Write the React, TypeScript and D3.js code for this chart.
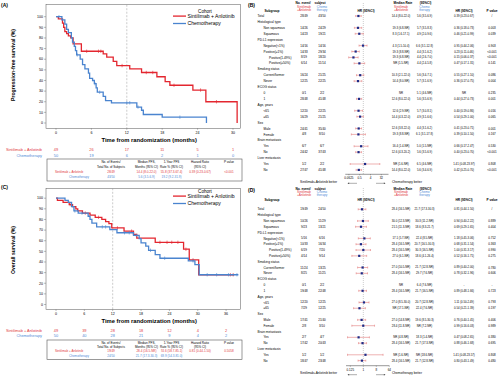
import React from 'react';
import * as d3 from 'd3';

const RED = '#e3262f';
const BLUE = '#4a84cf';
const TRED = '#e2383d';
const TBLUE = '#4f8ad6';
const NAVY = '#1c2a86';
const CIRED = '#e27c7c';
const FONT = 'Liberation Sans, Arial, Helvetica, sans-serif';

// ---------- Kaplan-Meier data ----------
const pfsRedSteps: [number, number][] = [[0, 100], [0.4, 98], [1.1, 94], [1.3, 90], [1.5, 86], [1.8, 84], [2.1, 82], [2.5, 80], [2.9, 74.5], [4.3, 67.5], [8.0, 65], [8.6, 62], [9.7, 58], [10.3, 54], [12.5, 51], [14.5, 47.5], [17.1, 43.5], [18.5, 39], [19.3, 35.5], [23.2, 31], [25.4, 20], [30.7, 0]];
const pfsRedEnd = 30.7;
const pfsRedCensor = [5.2, 7.2, 7.6, 11.2, 15.3, 16.4, 20.0, 24.5, 27.2];
const pfsBlueSteps: [number, number][] = [[0, 100], [1.0, 97], [1.5, 93], [1.8, 88], [2.1, 85], [2.6, 80], [2.8, 76], [3.1, 72], [3.3, 68], [3.5, 64], [4.1, 60], [4.5, 55], [4.9, 51], [5.5, 47], [5.7, 42], [6.2, 40], [6.5, 37], [6.8, 33], [7.0, 29], [8.0, 25], [8.4, 21], [9.4, 19], [13.7, 15], [14.5, 12], [14.8, 8], [18.0, 5.5], [25.5, 0]];
const pfsBlueEnd = 25.5;
const pfsBlueCensor = [0.5, 3.6, 6.6, 7.4, 12.0, 12.5, 13.9, 21.0];

const osRedSteps: [number, number][] = [[0, 100], [0.3, 98], [1.5, 96], [2.8, 94], [3.5, 92], [4.2, 90], [4.6, 88], [5.6, 86], [7.2, 84], [8.3, 82], [9.7, 80], [10.5, 78], [11.2, 76], [11.8, 72], [14.4, 69], [16.4, 66], [17.1, 62.5], [21.0, 58.5], [27.0, 52], [28.2, 42], [30.2, 28]];
const osRedEnd = 37.7;
const osRedCensor = [3.0, 6.2, 9.0, 13.0, 16.0, 22.0, 23.5, 24.5, 25.8, 27.5, 29.0, 36.9, 37.5];
const osBlueSteps: [number, number][] = [[0, 100], [1.9, 98], [2.6, 96], [3.3, 92], [3.8, 88], [4.7, 86], [6.8, 83], [7.2, 80], [7.6, 76.5], [8.6, 73], [11.4, 70.5], [12.9, 67.5], [16.4, 65], [17.6, 62], [18.0, 58], [19.0, 55], [19.6, 51], [21.0, 47], [22.0, 43.5], [28.0, 41], [29.4, 37.5], [30.3, 28]];
const osBlueEnd = 38.6;
const osBlueCensor = [4.0, 5.5, 9.8, 10.5, 14.5, 15.5, 17.0, 20.0, 23.0, 29.0, 32.0, 34.0, 36.5, 38.3];

const pfsMonthTicks = [0, 6, 12, 18, 24, 30];
const osMonthTicks = [0, 6, 12, 18, 24, 30, 36];
const pfsRiskRed = [49, 26, 17, 11, 5, 1];
const pfsRiskBlue = [50, 19, 6, 2, 1, 0];
const osRiskRed = [49, 39, 28, 18, 12, 4, 2];
const osRiskBlue = [50, 40, 28, 21, 9, 4, 2];
const survTicks = [0, 10, 20, 30, 40, 50, 60, 70, 80, 90, 100];

const groupRed = 'Sintilimab + Anlotinib';
const groupBlue = 'Chemotherapy';

const summaryHead1 = ['No. of Events/', 'Median PFS,', '1-Year PFS', 'Hazard Ratio', 'P value'];
const summaryHead2 = ['Total No. of Subjects', 'Months (95% CI)', 'Rate % (95% CI)', '(95% CI)', ''];
const pfsSummaryRed = ['28/49', '14.4 (8.0-22.0)', '55.8 (37.3-67.4)', '0.39 (0.23-0.67)', '<0.001'];
const pfsSummaryBlue = ['43/50', '5.6 (3.5-6.9)', '19.2 (9.2-31.9)', '', ''];
const osSummaryRed = ['19/49', '28.4 (16.5-NR)', '74.6 (58.7-85.1)', '0.81 (0.44-1.50)', '0.5058'];
const osSummaryBlue = ['24/50', '21.7 (17.3-30.3)', '69.9 (54.3-81.0)', '', ''];

// ---------- Forest data ----------
const subgroups = ['Total', 'Histological type', 'Non squamous', 'Squamous', 'PD-L1 expression', 'Negative(<1%)', 'Positive(≥1%)', 'Positive(1-49%)', 'Positive(≥50%)', 'Smoking status', 'Current/former', 'Never', 'ECOG status', '0', '1', 'Age, years', '<65', '≥65', 'Sex', 'Male', 'Female', 'Brain metastasis', 'Yes', 'No', 'Liver metastasis', 'Yes', 'No'];
const subLevels = [0, 0, 1, 1, 0, 1, 1, 2, 2, 0, 1, 1, 0, 1, 1, 0, 1, 1, 0, 1, 1, 0, 1, 1, 0, 1, 1];

const pfsEvRed = ['28/49', null, '14/26', '14/23', null, '14/16', '14/33', '8/19', '6/14', null, '16/24', '12/25', null, '0/1', '28/48', null, '12/20', '16/29', null, '24/41', '4/8', null, '6/7', '24/42', null, '1/2', '27/47'];
const pfsEvBlue = ['43/50', null, '24/29', '19/21', null, '14/16', '29/34', '18/20', '11/14', null, '21/25', '22/25', null, '2/2', '41/48', null, '22/25', '21/25', null, '35/40', '8/10', null, '6/7', '37/43', null, '2/2', '41/48'];
const pfsMedRed = ['14.4 (8.0-22.0)', null, '19.3 (6.8-NR)', '8.3 (1.6-17.1)', null, '4.3 (1.5-10.4)', '19.3 (8.8-NR)', '19.3 (6.8-NR)', 'NR (1.5-NR)', null, '10.3 (2.1-22.0)', '14.4 (8.0-NR)', null, 'NR', '12.6 (8.0-22.0)', null, '12.6 (2.9-NR)', '14.4 (4.3-22.0)', null, '12.6 (3.8-22.0)', '19.3 (8.8-NR)', null, '16.4 (1.4-NR)', '12.6 (4.3-20.2)', null, 'NR (1.6-NR)', '14.4 (8.0-22.0)'];
const pfsMedBlue = ['5.6 (3.5-6.9)', null, '5.7 (3.5-8.3)', '4.9 (2.0-9.6)', null, '6.6 (3.1-12.8)', '4.4 (3.1-6.2)', '4.4 (2.6-7.0)', '4.4 (2.4-5.8)', null, '5.6 (3.4-7.1)', '5.7 (3.1-6.9)', null, '5.1 (4.6-NR)', '5.6 (3.5-6.9)', null, '5.7 (3.0-8.1)', '4.9 (3.1-6.6)', null, '4.4 (3.1-6.2)', '6.1 (3.1-17.8)', null, '5.0 (1.5-NR)', '5.6 (3.5-6.9)', null, '6.5 (4.6-NR)', '5.6 (3.4-6.9)'];
const pfsHRText = ['0.39 (0.23-0.67)', null, '0.36 (0.18-0.73)', '0.46 (0.21-0.99)', null, '0.95 (0.44-2.06)', '0.23 (0.11-0.46)', '0.15 (0.06-0.37)', '0.47 (0.17-1.31)', null, '0.55 (0.27-1.10)', '0.36 (0.17-0.75)', null, 'NR', '0.44 (0.27-0.73)', null, '0.40 (0.19-0.86)', '0.54 (0.29-1.00)', null, '0.41 (0.23-0.71)', '0.39 (0.10-1.50)', null, '0.66 (0.17-2.47)', '0.40 (0.23-0.70)', null, '1.41 (0.08-23.97)', '0.42 (0.25-0.70)'];
const pfsP = ['/', null, '0.003', '0.039', null, '0.903', '<0.001', '<0.001', '0.141', null, '0.086', '0.004', null, '0.235', '0.001', null, '0.016', '0.065', null, '0.001', '0.167', null, '0.530', '<0.001', null, '0.808', '<0.001'];
const pfsHR = [0.39, null, 0.36, 0.46, null, 0.95, 0.23, 0.15, 0.47, null, 0.55, 0.36, null, null, 0.44, null, 0.40, 0.54, null, 0.41, 0.39, null, 0.66, 0.40, null, 1.41, 0.42];
const pfsLo = [0.23, null, 0.18, 0.21, null, 0.44, 0.11, 0.06, 0.17, null, 0.27, 0.17, null, null, 0.27, null, 0.19, 0.29, null, 0.23, 0.10, null, 0.17, 0.23, null, 0.08, 0.25];
const pfsHi = [0.67, null, 0.73, 0.99, null, 2.06, 0.46, 0.37, 1.31, null, 1.10, 0.75, null, null, 0.73, null, 0.86, 1.00, null, 0.71, 1.50, null, 2.47, 0.70, null, 23.97, 0.70];

const osEvRed = ['19/49', null, '10/26', '9/23', null, '5/16', '10/33', '6/19', '4/14', null, '11/24', '8/25', null, '0/1', '19/48', null, '12/20', '7/29', null, '17/41', '2/8', null, '2/7', '17/42', null, '1/2', '18/47'];
const osEvBlue = ['24/50', null, '11/29', '13/21', null, '6/16', '16/34', '7/20', '9/14', null, '13/25', '11/25', null, '2/2', '22/48', null, '12/25', '12/25', null, '21/40', '3/10', null, '4/7', '20/43', null, '1/2', '23/48'];
const osMedRed = ['28.4 (16.5-NR)', null, '30.0 (12.3-NR)', '21.5 (11.3-NR)', null, '17.1 (5.7-NR)', '28.4 (16.5-NR)', '28.4 (16.5-NR)', '27.0 (6.1-NR)', null, '27.0 (10.5-NR)', '28.4 (16.5-NR)', null, 'NR', '28.4 (16.5-NR)', null, '27.0 (8.5-30.0)', 'NR (17.1-NR)', null, '27.0 (14.8-NR)', '28.4 (11.8-NR)', null, 'NR (4.8-NR)', '28.4 (16.5-NR)', null, 'NR (1.6-NR)', '28.4 (16.5-NR)'];
const osMedBlue = ['21.7 (17.3-30.3)', null, '30.3 (11.2-NR)', '18.6 (8.3-21.7)', null, '22.4 (8.5-NR)', '20.7 (16.5-30.3)', '30.3 (16.5-NR)', '18.6 (4.1-26.4)', null, '21.7 (12.8-NR)', '29.7 (7.6-NR)', null, '6.4 (7.6-NR)', '21.7 (16.5-NR)', null, '20.7 (12.8-NR)', '22.4 (7.6-NR)', null, '19.6 (8.5-30.3)', 'NR (7.2-NR)', null, '18.3 (1.4-NR)', '21.7 (17.3-NR)', null, 'NR (18.6-NR)', '21.7 (12.8-NR)'];
const osHRText = ['0.81 (0.44-1.50)', null, '0.94 (0.40-2.22)', '0.69 (0.29-1.65)', null, '1.18 (0.45-3.06)', '0.68 (0.31-1.54)', '1.00 (0.31-3.17)', '0.52 (0.16-1.71)', null, '0.89 (0.40-2.00)', '0.78 (0.32-1.96)', null, '-', '0.89 (0.48-1.66)', null, '1.11 (0.50-2.49)', '0.54 (0.21-1.39)', null, '0.76 (0.40-1.45)', '0.99 (0.16-6.03)', null, '0.47 (0.08-2.65)', '0.88 (0.46-1.68)', null, '1.41 (0.08-23.57)', '0.80 (0.43-1.49)'];
const osP = ['/', null, '0.889', '0.404', null, '0.752', '0.363', '0.990', '0.275', null, '0.780', '0.606', null, '-', '0.723', null, '0.793', '0.197', null, '0.406', '0.989', null, '0.380', '0.695', null, '0.808', '0.480'];
const osHR = [0.81, null, 0.94, 0.69, null, 1.18, 0.68, 1.00, 0.52, null, 0.89, 0.78, null, null, 0.89, null, 1.11, 0.54, null, 0.76, 0.99, null, 0.47, 0.88, null, 1.41, 0.80];
const osLo = [0.44, null, 0.40, 0.29, null, 0.45, 0.31, 0.31, 0.16, null, 0.40, 0.32, null, null, 0.48, null, 0.50, 0.21, null, 0.40, 0.16, null, 0.08, 0.46, null, 0.08, 0.43];
const osHi = [1.50, null, 2.22, 1.65, null, 3.06, 1.54, 3.17, 1.71, null, 2.00, 1.96, null, null, 1.66, null, 2.49, 1.39, null, 1.45, 6.03, null, 2.65, 1.68, null, 23.57, 1.49];

const pfsForestTicks = [0.0625, 0.5, 4, 32];
const osForestTicks = [0.125, 1, 8, 64];

// ---------- helpers ----------
const T = (props: any) => <text fontFamily={FONT} dy="0.35em" {...props} />;

function stepAt(steps: [number, number][], t: number) {
  let s = steps[0][1];
  for (const [tt, v] of steps) if (tt <= t) s = v;
  return s;
}

function KMPanel(p: any) {
  const x = d3.scaleLinear().domain([0, 6]).range([p.x0, p.x0 + p.pxPer6]);
  const y = d3.scaleLinear().domain([0, 100]).range([p.y0, p.y100]);
  const line = d3.line<[number, number]>().x((d) => x(d[0])).y((d) => y(d[1])).curve(d3.curveStepAfter);
  const series = [
    { steps: p.redSteps, end: p.redEnd, censor: p.redCensor, color: RED },
    { steps: p.blueSteps, end: p.blueEnd, censor: p.blueCensor, color: BLUE },
  ];
  const fs = 3.6;
  const bfs = 3.05;
  const rfs = 3.9;
  const colX = [111, 146.5, 171.5, 200, 229];
  return (
    <g>
      <T x={1} y={p.labelY} fontSize={5} fontWeight="bold">{p.label}</T>
      <rect x={p.fl} y={p.ft} width={p.fr - p.fl} height={p.fb - p.ft} fill="none" stroke="#555" strokeWidth={0.5} />
      <line x1={x(12)} x2={x(12)} y1={p.ft} y2={p.fb} stroke="#999" strokeWidth={0.5} strokeDasharray="2,1.5" />
      {survTicks.map((v) => (
        <g key={v}>
          <line x1={p.fl - 2} x2={p.fl} y1={y(v)} y2={y(v)} stroke="#555" strokeWidth={0.4} />
          <T x={p.fl - 3} y={y(v)} fontSize={fs} textAnchor="end">{v}</T>
        </g>
      ))}
      {p.monthTicks.map((m: number) => (
        <g key={m}>
          <line x1={x(m)} x2={x(m)} y1={p.fb} y2={p.fb + 1.5} stroke="#555" strokeWidth={0.4} />
          <T x={x(m)} y={p.tickLabelY} fontSize={fs} textAnchor="middle">{m}</T>
        </g>
      ))}
      <T x={(p.fl + p.fr) / 2 + 6} y={p.titleY} fontSize={5.8} fontWeight="bold" textAnchor="middle">Time from randomization (months)</T>
      <T x={0} y={0} fontSize={5.2} fontWeight="bold" textAnchor="middle" transform={`translate(13,${p.yTitleY}) rotate(-90)`}>{p.yTitle}</T>
      {series.map((s, i) => {
        const pts: [number, number][] = [...s.steps, [s.end, s.steps[s.steps.length - 1][1]]];
        return (
          <g key={i}>
            <path d={line(pts) || ''} fill="none" stroke={s.color} strokeWidth={1.3} />
            {s.censor.map((c: number, j: number) => (
              <line key={j} x1={x(c)} x2={x(c)} y1={y(stepAt(s.steps, c)) - 1.7} y2={y(stepAt(s.steps, c)) + 1.7} stroke={s.color} strokeWidth={0.6} />
            ))}
          </g>
        );
      })}
      {/* legend */}
      <T x={205} y={p.legY} fontSize={4.6} textAnchor="middle">Cohort</T>
      <line x1={173} x2={186} y1={p.legY + 4.6} y2={p.legY + 4.6} stroke={RED} strokeWidth={1.3} />
      <T x={187.5} y={p.legY + 4.8} fontSize={5.1}>{groupRed}</T>
      <line x1={173} x2={186} y1={p.legY + 12} y2={p.legY + 12} stroke={BLUE} strokeWidth={1.3} />
      <T x={187.5} y={p.legY + 12.2} fontSize={5.1}>{groupBlue}</T>
      {/* risk table */}
      <T x={42} y={p.riskRedY} fontSize={rfs} textAnchor="end" fill={TRED}>{groupRed}</T>
      <T x={42} y={p.riskBlueY} fontSize={rfs} textAnchor="end" fill={TBLUE}>{groupBlue}</T>
      {p.monthTicks.map((m: number, i: number) => (
        <g key={m}>
          <T x={x(m)} y={p.riskRedY} fontSize={rfs} textAnchor="middle" fill={TRED}>{p.riskRed[i]}</T>
          <T x={x(m)} y={p.riskBlueY} fontSize={rfs} textAnchor="middle" fill={TBLUE}>{p.riskBlue[i]}</T>
        </g>
      ))}
      {/* summary box */}
      <rect x={47} y={p.boxT} width={195} height={p.boxB - p.boxT} fill="none" stroke="#555" strokeWidth={0.6} />
      {summaryHead1.map((h, i) => (
        <T key={'h1' + i} x={colX[i]} y={p.hY1} fontSize={bfs} textAnchor="middle">{h}</T>
      ))}
      {summaryHead2.map((h, i) => (
        <T key={'h2' + i} x={colX[i]} y={p.hY2} fontSize={bfs} textAnchor="middle">{h}</T>
      ))}
      <T x={69} y={p.rY1} fontSize={bfs} textAnchor="middle" fill={TRED}>{groupRed}</T>
      <T x={79} y={p.rY2} fontSize={bfs} textAnchor="middle" fill={TBLUE}>{groupBlue}</T>
      {p.sumRed.map((v: string, i: number) => (
        <T key={'r' + i} x={colX[i]} y={p.rY1} fontSize={bfs} textAnchor="middle" fill={TRED}>{v}</T>
      ))}
      {p.sumBlue.map((v: string, i: number) => (
        <T key={'b' + i} x={colX[i]} y={p.rY2} fontSize={bfs} textAnchor="middle" fill={TBLUE}>{v}</T>
      ))}
    </g>
  );
}

function ForestPanel(p: any) {
  const xs = d3.scaleLog().base(2).domain([Math.pow(2, p.logMin), Math.pow(2, p.logMax)]).range([p.xL, p.xR]);
  const ry = (i: number) => p.rowY0 + i * p.rowStep;
  const fs = 3.2;
  const vfs = 2.8;
  const efs = 3.0;
  const labelX = [257.5, 263.5, 269];
  const c = { ev1: 304, ev2: 322, med1: 401, med2: 424.5, hr: 464, p: 492 };
  return (
    <g>
      <T x={248} y={p.labelY} fontSize={5} fontWeight="bold">{p.label}</T>
      <T x={c.ev1 - 1} y={p.h1} fontSize={fs} fontWeight="bold" textAnchor="middle">No. event/</T>
      <T x={c.ev2 - 2} y={p.h1} fontSize={fs} fontWeight="bold" textAnchor="middle">subject</T>
      <T x={c.ev1} y={p.h2} fontSize={fs} textAnchor="middle" fill={TRED}>Sintilimab</T>
      <T x={c.ev1} y={p.h3} fontSize={fs} textAnchor="middle" fill={TRED}>+Anlotinib</T>
      <T x={c.ev2} y={p.h2} fontSize={fs} textAnchor="middle" fill={TBLUE}>Chemo</T>
      <T x={c.ev2} y={p.h3} fontSize={fs} textAnchor="middle" fill={TBLUE}>therapy</T>
      <T x={c.med1 + 2} y={p.h1} fontSize={fs} fontWeight="bold" textAnchor="middle">Median Rate</T>
      <T x={c.med2 + 1} y={p.h1} fontSize={fs} fontWeight="bold" textAnchor="middle">(95%CI)</T>
      <T x={c.med1} y={p.h2} fontSize={fs} textAnchor="middle" fill={TRED}>Sintilimab</T>
      <T x={c.med1} y={p.h3} fontSize={fs} textAnchor="middle" fill={TRED}>+Anlotinib</T>
      <T x={c.med2} y={p.h2} fontSize={fs} textAnchor="middle" fill={TBLUE}>Chemo</T>
      <T x={c.med2} y={p.h3} fontSize={fs} textAnchor="middle" fill={TBLUE}>therapy</T>
      <T x={272} y={p.headY} fontSize={fs} fontWeight="bold" textAnchor="middle">Subgroup</T>
      <T x={366} y={p.headY} fontSize={fs} fontWeight="bold" textAnchor="middle">HR (95%CI)</T>
      <T x={c.hr} y={p.headY} fontSize={fs} fontWeight="bold" textAnchor="middle">HR (95%CI)</T>
      <T x={c.p} y={p.headY} fontSize={fs} fontWeight="bold" textAnchor="middle">P value</T>
      <line x1={xs(1)} x2={xs(1)} y1={p.refTop} y2={p.axisY} stroke="#999" strokeWidth={0.5} strokeDasharray="1,1" />
      {subgroups.map((s, i) => (
        <g key={i}>
          <T x={labelX[subLevels[i]]} y={ry(i)} fontSize={fs}>{s}</T>
          {p.evRed[i] != null && <T x={c.ev1} y={ry(i)} fontSize={efs} textAnchor="middle">{p.evRed[i]}</T>}
          {p.evBlue[i] != null && <T x={c.ev2} y={ry(i)} fontSize={efs} textAnchor="middle">{p.evBlue[i]}</T>}
          {p.medRed[i] != null && <T x={c.med1} y={ry(i)} fontSize={vfs} textAnchor="middle">{p.medRed[i]}</T>}
          {p.medBlue[i] != null && <T x={c.med2} y={ry(i)} fontSize={vfs} textAnchor="middle">{p.medBlue[i]}</T>}
          {p.hrText[i] != null && <T x={c.hr} y={ry(i)} fontSize={vfs} textAnchor="middle">{p.hrText[i]}</T>}
          {p.pv[i] != null && <T x={c.p} y={ry(i)} fontSize={efs} textAnchor="middle">{p.pv[i]}</T>}
          {p.hr[i] != null && (
            <g>
              <line x1={xs(p.lo[i])} x2={xs(p.hi[i])} y1={ry(i)} y2={ry(i)} stroke={CIRED} strokeWidth={0.6} />
              <line x1={xs(p.lo[i])} x2={xs(p.lo[i])} y1={ry(i) - 1} y2={ry(i) + 1} stroke={CIRED} strokeWidth={0.6} />
              <line x1={xs(p.hi[i])} x2={xs(p.hi[i])} y1={ry(i) - 1} y2={ry(i) + 1} stroke={CIRED} strokeWidth={0.6} />
              <rect x={xs(p.hr[i]) - 1.1} y={ry(i) - 1.1} width={2.2} height={2.2} fill={NAVY} />
            </g>
          )}
        </g>
      ))}
      <line x1={p.xL} x2={p.xR} y1={p.axisY} y2={p.axisY} stroke="#333" strokeWidth={0.5} />
      {p.ticks.map((t: number) => (
        <g key={t}>
          <line x1={xs(t)} x2={xs(t)} y1={p.axisY} y2={p.axisY + 1} stroke="#333" strokeWidth={0.4} />
          <T x={xs(t)} y={p.axisY + 3.8} fontSize={efs} textAnchor="middle">{t}</T>
        </g>
      ))}
      <T x={337} y={p.axisY + 7.5} fontSize={fs} textAnchor="end">Sintilimab+Anlotinib better</T>
      <T x={392} y={p.axisY + 7.5} fontSize={fs}>Chemotherapy better</T>
      <line x1={357} x2={348.5} y1={p.axisY + 9} y2={p.axisY + 9} stroke="#333" strokeWidth={0.4} />
      <path d={`M347.5,${p.axisY + 9} l1.6,-0.8 l0,1.6 z`} fill="#333" />
      <line x1={376} x2={384.5} y1={p.axisY + 9} y2={p.axisY + 9} stroke="#333" strokeWidth={0.4} />
      <path d={`M385.5,${p.axisY + 9} l-1.6,-0.8 l0,1.6 z`} fill="#333" />
    </g>
  );
}

export default function App() {
  return (
    <svg width={500} height={376} viewBox="0 0 500 376" style={{ position: 'absolute', left: 0, top: 0, background: '#fff' }}>
      <rect width={500} height={376} fill="#fff" />
      <KMPanel
        label="(A)" labelY={5} yTitle="Progression-free survival (%)" yTitleY={65}
        x0={56} pxPer6={35.4} y0={123} y100={16.7}
        fl={46} fr={240.5} ft={4.7} fb={128.3}
        monthTicks={pfsMonthTicks} tickLabelY={132.5} titleY={140}
        redSteps={pfsRedSteps} redEnd={pfsRedEnd} redCensor={pfsRedCensor}
        blueSteps={pfsBlueSteps} blueEnd={pfsBlueEnd} blueCensor={pfsBlueCensor}
        legY={11.5}
        riskRedY={149.3} riskBlueY={155.5} riskRed={pfsRiskRed} riskBlue={pfsRiskBlue}
        boxT={159} boxB={181} hY1={162.2} hY2={166.8} rY1={172} rY2={176.5}
        sumRed={pfsSummaryRed} sumBlue={pfsSummaryBlue}
      />
      <KMPanel
        label="(C)" labelY={187} yTitle="Overall survival (%)" yTitleY={250}
        x0={56} pxPer6={28.35} y0={304.5} y100={198.2}
        fl={46} fr={240.5} ft={188.3} fb={309.5}
        monthTicks={osMonthTicks} tickLabelY={314} titleY={321.4}
        redSteps={osRedSteps} redEnd={osRedEnd} redCensor={osRedCensor}
        blueSteps={osBlueSteps} blueEnd={osBlueEnd} blueCensor={osBlueCensor}
        legY={191.5}
        riskRedY={330.7} riskBlueY={335.7} riskRed={osRiskRed} riskBlue={osRiskBlue}
        boxT={340} boxB={359.5} hY1={342.6} hY2={346.5} rY1={351.2} rY2={355.8}
        sumRed={osSummaryRed} sumBlue={osSummaryBlue}
      />
      <ForestPanel
        label="(B)" labelY={5} h1={3} h2={6.7} h3={10.3} headY={11}
        rowY0={16} rowStep={5.92} axisY={174.3} refTop={3}
        logMin={-5} logMax={7} xL={345.3} xR={388.5} ticks={pfsForestTicks}
        evRed={pfsEvRed} evBlue={pfsEvBlue} medRed={pfsMedRed} medBlue={pfsMedBlue}
        hrText={pfsHRText} pv={pfsP} hr={pfsHR} lo={pfsLo} hi={pfsHi}
      />
      <ForestPanel
        label="(D)" labelY={190} h1={188.5} h2={191.8} h3={195.2} headY={200}
        rowY0={209.3} rowStep={5.82} axisY={365.7} refTop={188}
        logMin={-4} logMax={6} xL={346} xR={389.3} ticks={osForestTicks}
        evRed={osEvRed} evBlue={osEvBlue} medRed={osMedRed} medBlue={osMedBlue}
        hrText={osHRText} pv={osP} hr={osHR} lo={osLo} hi={osHi}
      />
    </svg>
  );
}
